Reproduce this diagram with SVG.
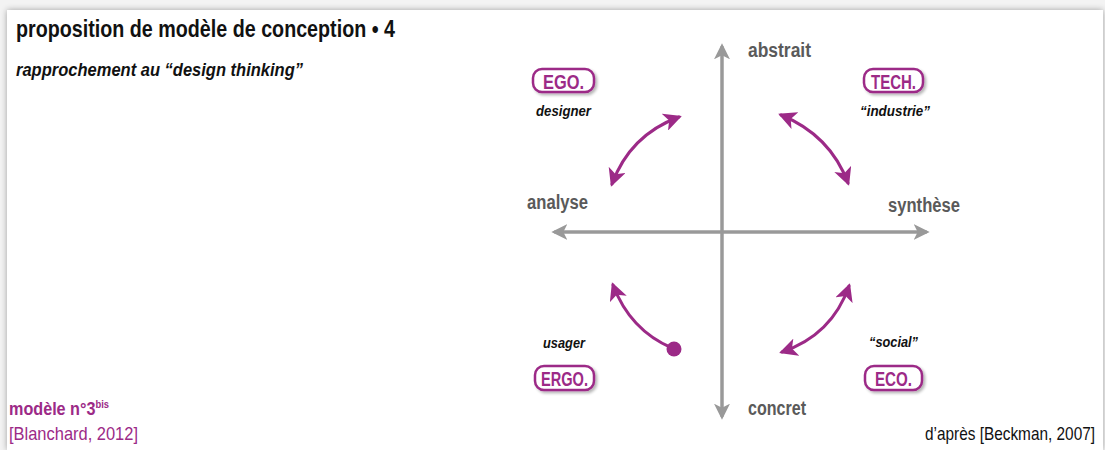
<svg xmlns="http://www.w3.org/2000/svg" width="1105" height="450" viewBox="0 0 1105 450">
<defs>
<filter id="sh" x="-5%" y="-5%" width="110%" height="110%">
<feGaussianBlur in="SourceAlpha" stdDeviation="3"/>
<feOffset dx="0" dy="0"/>
<feComponentTransfer><feFuncA type="linear" slope="0.35"/></feComponentTransfer>
<feMerge><feMergeNode/><feMergeNode in="SourceGraphic"/></feMerge>
</filter>
<filter id="bsh" x="-20%" y="-30%" width="140%" height="160%">
<feGaussianBlur in="SourceAlpha" stdDeviation="1.5"/>
<feOffset dx="1.5" dy="1.5"/>
<feComponentTransfer><feFuncA type="linear" slope="0.3"/></feComponentTransfer>
<feMerge><feMergeNode/><feMergeNode in="SourceGraphic"/></feMerge>
</filter>
<marker id="ga" viewBox="0 0 12 12" refX="10" refY="6" markerWidth="16" markerHeight="16" markerUnits="userSpaceOnUse" orient="auto">
<path d="M0,0 L12,6 L0,12 L3,6 z" fill="#999"/>
</marker>
<marker id="pa" viewBox="0 0 12 12" refX="10" refY="6" markerWidth="18" markerHeight="18" markerUnits="userSpaceOnUse" orient="auto-start-reverse">
<path d="M0,0 L12,6 L0,12 L3,6 z" fill="#9c2a87"/>
</marker>
<style>
.t{font-family:"Liberation Sans Narrow","Liberation Sans",Arial,sans-serif}
.ax{font-family:"Liberation Sans Narrow","Liberation Sans",Arial,sans-serif;font-weight:bold;font-size:20px;fill:#5a5a5a}
.lb{font-family:"Liberation Sans Narrow","Liberation Sans",Arial,sans-serif;font-weight:bold;font-style:italic;font-size:15px;fill:#111}
.bx{fill:#fff;stroke:#9c2a87;stroke-width:2.5}
.bt{font-family:"Liberation Sans Narrow","Liberation Sans",Arial,sans-serif;font-weight:bold;font-size:20px;fill:#9c2a87;text-anchor:middle}
.axis{stroke:#999;stroke-width:3;fill:none}
.pc{stroke:#9c2a87;stroke-width:3;fill:none;stroke-linecap:round}
</style>
</defs>
<rect x="0" y="0" width="1105" height="450" fill="#f3f3f3"/>
<rect x="7" y="10" width="1096" height="440" fill="#fff" filter="url(#sh)"/>

<g id="title">
<text class="t" x="16" y="37" font-size="24" font-weight="bold" fill="#111" textLength="379" lengthAdjust="spacingAndGlyphs">proposition de modèle de conception • 4</text>
<text class="t" x="16" y="76" font-size="19" font-weight="bold" font-style="italic" fill="#111" textLength="287" lengthAdjust="spacingAndGlyphs">rapprochement au “design thinking”</text>
</g>

<g id="connectors">
<line class="axis" x1="722" y1="415" x2="722" y2="46" marker-end="url(#ga)"/>
<line class="axis" x1="722" y1="48" x2="722" y2="417" marker-end="url(#ga)"/>
<line class="axis" x1="925" y1="232" x2="554" y2="232" marker-end="url(#ga)"/>
<line class="axis" x1="556" y1="232" x2="927" y2="232" marker-end="url(#ga)"/>
<path class="pc" d="M612,184 Q630,135 679,117" marker-start="url(#pa)" marker-end="url(#pa)"/>
<path class="pc" d="M781,115 Q830,135 848,183" marker-start="url(#pa)" marker-end="url(#pa)"/>
<path class="pc" d="M849,286 Q832,335 782,352" marker-start="url(#pa)" marker-end="url(#pa)"/>
<path class="pc" d="M672,348 Q630,330 613,285" marker-end="url(#pa)"/>
<circle cx="674" cy="349" r="7.5" fill="#9c2a87"/>
</g>

<g id="abstrait"><text class="ax" x="748" y="57" textLength="63" lengthAdjust="spacingAndGlyphs">abstrait</text></g>
<g id="analyse"><text class="ax" x="527" y="209" textLength="61" lengthAdjust="spacingAndGlyphs">analyse</text></g>
<g id="synthese"><text class="ax" x="888" y="212" textLength="72" lengthAdjust="spacingAndGlyphs">synthèse</text></g>
<g id="concret"><text class="ax" x="748" y="415" textLength="58" lengthAdjust="spacingAndGlyphs">concret</text></g>

<g id="ego">
<rect class="bx" x="533" y="69" width="61" height="23" rx="9" filter="url(#bsh)"/>
<text class="bt" x="563.5" y="88.5" textLength="41" lengthAdjust="spacingAndGlyphs">EGO.</text>
<text class="lb" x="536" y="116" textLength="55" lengthAdjust="spacingAndGlyphs">designer</text>
</g>
<g id="tech">
<rect class="bx" x="864" y="69" width="59" height="23" rx="9" filter="url(#bsh)"/>
<text class="bt" x="893.5" y="88.5" textLength="45" lengthAdjust="spacingAndGlyphs">TECH.</text>
<text class="lb" x="860" y="116" textLength="70" lengthAdjust="spacingAndGlyphs">“industrie”</text>
</g>
<g id="ergo">
<text class="lb" x="543" y="348" textLength="42" lengthAdjust="spacingAndGlyphs">usager</text>
<rect class="bx" x="535" y="366" width="59" height="24" rx="9" filter="url(#bsh)"/>
<text class="bt" x="564.5" y="386" textLength="47" lengthAdjust="spacingAndGlyphs">ERGO.</text>
</g>
<g id="eco">
<text class="lb" x="869" y="347" textLength="49" lengthAdjust="spacingAndGlyphs">“social”</text>
<rect class="bx" x="865" y="366" width="57" height="24" rx="9" filter="url(#bsh)"/>
<text class="bt" x="893.5" y="386" textLength="37" lengthAdjust="spacingAndGlyphs">ECO.</text>
</g>

<g id="footer">
<text class="t" x="9" y="415" font-size="19" font-weight="bold" fill="#9c2a87" textLength="100" lengthAdjust="spacingAndGlyphs">modèle n°3<tspan font-size="11" dy="-7">bis</tspan></text>
<text class="t" x="9" y="440" font-size="19" fill="#9c2a87" textLength="129" lengthAdjust="spacingAndGlyphs">[Blanchard, 2012]</text>
<text class="t" x="1095" y="440" font-size="19" fill="#111" text-anchor="end" textLength="170" lengthAdjust="spacingAndGlyphs">d’après [Beckman, 2007]</text>
</g>
</svg>
